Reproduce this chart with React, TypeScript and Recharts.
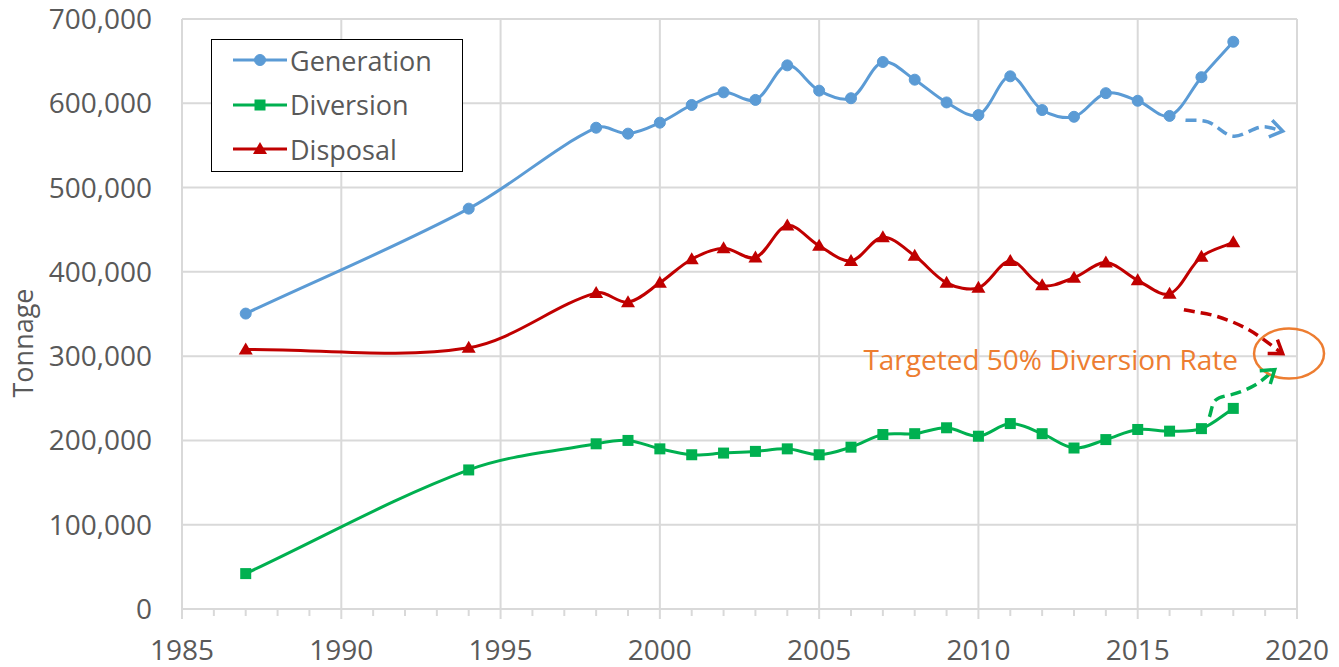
import {
  LineChart,
  Line,
  XAxis,
  YAxis,
  CartesianGrid,
  ReferenceLine,
  ReferenceDot,
  Legend,
} from 'recharts'

// 年份 & 三条主线
const years = [
  1987, 1994, 1998, 1999, 2000, 2001, 2002, 2003, 2004, 2005, 2006, 2007,
  2008, 2009, 2010, 2011, 2012, 2013, 2014, 2015, 2016, 2017, 2018,
]
const generation = [
  350500, 475000, 571000, 564000, 577000, 598000, 613000, 604000, 645000,
  615000, 606000, 649000, 628000, 601000, 586000, 632000, 592000, 584000,
  612000, 603000, 585000, 631000, 673000,
]
const diversion = [
  42000, 165000, 196000, 200000, 190000, 183000, 185000, 187000, 190000,
  183000, 192000, 207000, 208000, 215000, 205000, 220000, 208000, 191000,
  201000, 213000, 211000, 214000, 238000,
]
const disposal = [
  308000, 310000, 375000, 364000, 387000, 415000, 428000, 417000, 455000,
  431000, 413000, 441000, 419000, 387000, 381000, 413000, 384000, 393000,
  411000, 390000, 374000, 418000, 435000,
]

// 虚线箭头 (趋势示意)
const generationArrow = [
  { year: 2016.5, value: 580000 },
  { year: 2017.2, value: 578000 },
  { year: 2018.0, value: 561000 },
  { year: 2018.9, value: 572000 },
  { year: 2019.55, value: 567000 },
]
const disposalArrow = [
  { year: 2016.45, value: 355000 },
  { year: 2017.5, value: 347000 },
  { year: 2018.5, value: 331000 },
  { year: 2019.55, value: 303000 },
]
const diversionArrow = [
  { year: 2017.25, value: 228000 },
  { year: 2017.45, value: 248000 },
  { year: 2018.1, value: 256000 },
  { year: 2018.7, value: 266000 },
  { year: 2019.3, value: 284000 },
]
const target = { year: 2019.75, value: 303000 }
const targetLabel = 'Targeted 50% Diversion Rate'

const yTicks = [0, 100000, 200000, 300000, 400000, 500000, 600000, 700000]
const majorYears = [1985, 1990, 1995, 2000, 2005, 2010, 2015, 2020]
const allYears = Array.from({ length: 36 }, (_, i) => 1985 + i)

const data = years.map((year, i) => ({
  year,
  generation: generation[i],
  diversion: diversion[i],
  disposal: disposal[i],
}))

const BLUE = '#5B9BD5'
const GREEN = '#00B050'
const RED = '#C00000'
const ORANGE = '#ED7D31'
const GRID = '#D9D9D9'
const TEXT = '#595959'
const FONT = '"Open Sans", sans-serif'

// Excel 风格的平滑曲线 (按弦长缩放的 Catmull-Rom)
function excelSmooth(context: any) {
  let pts: [number, number][] = []
  const dist = (a: [number, number], b: [number, number]) => Math.hypot(b[0] - a[0], b[1] - a[1]) || 1
  return {
    areaStart() {},
    areaEnd() {},
    lineStart() {
      pts = []
    },
    lineEnd() {
      if (!pts.length) return
      context.moveTo(pts[0][0], pts[0][1])
      for (let i = 0; i < pts.length - 1; i++) {
        const p0 = pts[i - 1] || pts[i]
        const p1 = pts[i]
        const p2 = pts[i + 1]
        const p3 = pts[i + 2] || p2
        const d0 = i > 0 ? dist(p0, p1) : 0
        const d1 = dist(p1, p2)
        const d2 = i + 2 < pts.length ? dist(p2, p3) : 0
        const k1 = d1 / (3 * (d0 + d1))
        const k2 = d1 / (3 * (d1 + d2))
        context.bezierCurveTo(
          p1[0] + (p2[0] - p0[0]) * k1,
          p1[1] + (p2[1] - p0[1]) * k1,
          p2[0] - (p3[0] - p1[0]) * k2,
          p2[1] - (p3[1] - p1[1]) * k2,
          p2[0],
          p2[1]
        )
      }
    },
    point(x: number, y: number) {
      pts.push([+x, +y])
    },
  }
}

const YearTick = (props: any) => {
  const { x, y, payload } = props
  const major = payload.value % 5 === 0
  return (
    <g>
      <line x1={x} x2={x} y1={y} y2={y + (major ? 10 : 7)} stroke={GRID} strokeWidth={2} />
      {major && (
        <text x={x} y={y + 51} textAnchor="middle" fill={TEXT} fontSize={28} fontFamily={FONT}>
          {payload.value}
        </text>
      )}
    </g>
  )
}

const Circle = ({ cx, cy, color }: any) => <circle cx={cx} cy={cy} r={5.5} fill={color} stroke={color} />
const Square = ({ cx, cy, color }: any) => (
  <rect x={cx - 5.5} y={cy - 5.5} width={11} height={11} fill={color} />
)
const Triangle = ({ cx, cy, color }: any) => (
  <polygon points={`${cx},${cy - 7} ${cx + 7},${cy + 5} ${cx - 7},${cy + 5}`} fill={color} />
)

const arrowDot = (color: string) => (props: any) => {
  const { cx, cy, index, points, key } = props
  if (!points || index !== points.length - 1) return <g key={key} />
  const prev = points[index - 1]
  const ang = Math.atan2(cy - prev.y, cx - prev.x)
  const len = 15
  const a1 = ang + Math.PI - 0.6
  const a2 = ang + Math.PI + 0.6
  return (
    <polyline
      key={key}
      points={`${cx + len * Math.cos(a1)},${cy + len * Math.sin(a1)} ${cx},${cy} ${cx + len * Math.cos(a2)},${cy + len * Math.sin(a2)}`}
      fill="none"
      stroke={color}
      strokeWidth={3.5}
    />
  )
}

const legendItems = [
  { label: 'Generation', color: BLUE, Marker: Circle },
  { label: 'Diversion', color: GREEN, Marker: Square },
  { label: 'Disposal', color: RED, Marker: Triangle },
]

const LegendBox = () => (
  <div
    style={{
      width: 252,
      height: 133,
      border: '1.5px solid #000',
      background: '#fff',
      boxSizing: 'border-box',
      position: 'relative',
    }}
  >
    {legendItems.map((it, i) => (
      <div
        key={it.label}
        style={{ position: 'absolute', left: 20, top: 2 + i * 44.5, height: 36, display: 'flex', alignItems: 'center' }}
      >
        <svg width={56} height={20}>
          <line x1={1} x2={55} y1={10} y2={10} stroke={it.color} strokeWidth={3} />
          <it.Marker cx={28} cy={10} color={it.color} />
        </svg>
        <span style={{ fontFamily: FONT, fontSize: 27, color: TEXT, marginLeft: 2 }}>{it.label}</span>
      </div>
    ))}
  </div>
)

export default function App() {
  return (
    <div style={{ position: 'absolute', left: 0, top: 0, width: 1339, height: 667, background: '#fff' }}>
      <LineChart
        width={1339}
        height={667}
        data={data}
        margin={{ top: 19, right: 42, bottom: 0, left: 0 }}
        style={{ fontFamily: FONT }}
      >
        <CartesianGrid vertical={false} stroke={GRID} strokeWidth={2} />
        {majorYears.slice(1).map((y) => (
          <ReferenceLine key={y} x={y} stroke={GRID} strokeWidth={2} />
        ))}
        <XAxis
          dataKey="year"
          type="number"
          domain={[1985, 2020]}
          ticks={allYears}
          interval={0}
          height={58}
          tickSize={0}
          tickMargin={0}
          tickLine={false}
          axisLine={{ stroke: GRID, strokeWidth: 2 }}
          tick={<YearTick />}
        />
        <YAxis
          domain={[0, 700000]}
          ticks={yTicks}
          width={182}
          tickSize={0}
          tickMargin={30}
          tickLine={false}
          axisLine={{ stroke: GRID, strokeWidth: 2 }}
          tick={{ fill: TEXT, fontSize: 28, fontFamily: FONT }}
          tickFormatter={(v: number) => v.toLocaleString('en-US')}
          label={{
            value: 'Tonnage',
            content: (p: any) => {
              const vb = p.viewBox
              const x = vb.x + 22
              const y = vb.y + vb.height / 2 + 29
              return (
                <text
                  x={x}
                  y={y}
                  transform={`rotate(-90 ${x} ${y})`}
                  textAnchor="middle"
                  dominantBaseline="central"
                  fill={TEXT}
                  fontSize={27}
                  fontFamily={FONT}
                >
                  Tonnage
                </text>
              )
            },
          }}
        />
        <ReferenceDot
          x={2018.15}
          y={296500}
          r={0}
          shape={(p: any) => (
            <text x={p.cx} y={p.cy} textAnchor="end" dominantBaseline="central" fill={ORANGE} fontSize={28} fontFamily={FONT}>
              {targetLabel}
            </text>
          )}
        />
        <Line
          dataKey="generation"
          type={excelSmooth as any}
          stroke={BLUE}
          strokeWidth={3}
          dot={(p: any) => <Circle key={p.key} cx={p.cx} cy={p.cy} color={BLUE} />}
          activeDot={false}
          isAnimationActive={false}
        />
        <Line
          dataKey="diversion"
          type={excelSmooth as any}
          stroke={GREEN}
          strokeWidth={3}
          dot={(p: any) => <Square key={p.key} cx={p.cx} cy={p.cy} color={GREEN} />}
          activeDot={false}
          isAnimationActive={false}
        />
        <Line
          dataKey="disposal"
          type={excelSmooth as any}
          stroke={RED}
          strokeWidth={3}
          dot={(p: any) => <Triangle key={p.key} cx={p.cx} cy={p.cy} color={RED} />}
          activeDot={false}
          isAnimationActive={false}
        />
        <Line
          data={generationArrow}
          dataKey="value"
          type={excelSmooth as any}
          stroke={BLUE}
          strokeWidth={3.5}
          strokeDasharray="11 6"
          dot={arrowDot(BLUE)}
          activeDot={false}
          isAnimationActive={false}
          legendType="none"
        />
        <Line
          data={disposalArrow}
          dataKey="value"
          type={excelSmooth as any}
          stroke={RED}
          strokeWidth={3.5}
          strokeDasharray="11 6"
          dot={arrowDot(RED)}
          activeDot={false}
          isAnimationActive={false}
          legendType="none"
        />
        <Line
          data={diversionArrow}
          dataKey="value"
          type={excelSmooth as any}
          stroke={GREEN}
          strokeWidth={3.5}
          strokeDasharray="11 6"
          dot={arrowDot(GREEN)}
          activeDot={false}
          isAnimationActive={false}
          legendType="none"
        />
        <ReferenceDot
          x={target.year}
          y={target.value}
          r={0}
          shape={(p: any) => (
            <ellipse cx={p.cx} cy={p.cy} rx={35} ry={25} fill="none" stroke={ORANGE} strokeWidth={2.5} />
          )}
        />
        <Legend
          layout="horizontal"
          verticalAlign="middle"
          align="center"
          content={() => <LegendBox />}
          wrapperStyle={{ left: 211, top: 39, width: 252, height: 133 }}
        />
      </LineChart>
    </div>
  )
}
